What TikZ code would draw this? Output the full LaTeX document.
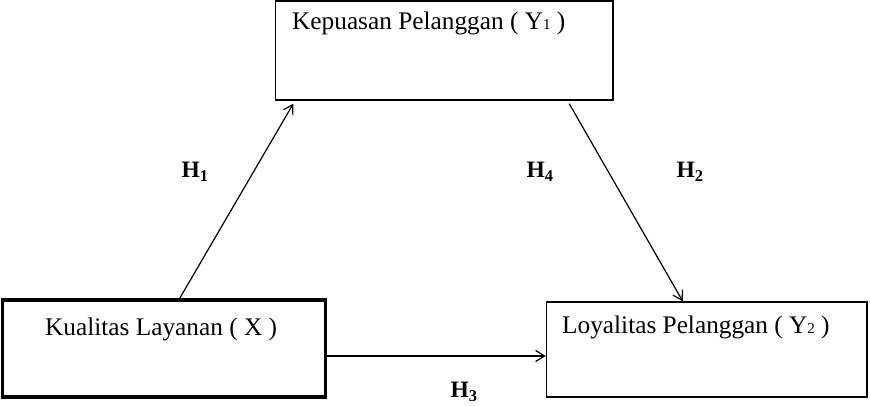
\documentclass[tikz,border=0pt]{standalone}
\usepackage{fontspec}
\setmainfont{Liberation Serif}
\usetikzlibrary{arrows.meta}
\begin{document}
\begin{tikzpicture}[x=1pt,y=-1pt,
  box/.style={draw,line width=1.5pt,minimum width=#1,inner sep=0pt},
  lbl/.style={anchor=base west,inner sep=0pt,font=\fontsize{25.3}{28}\selectfont},
  hyp/.style={inner sep=0pt,font=\fontsize{23.5}{26}\selectfont\bfseries},
  arr/.style={line width=1.2pt,-{Straight Barb[length=9pt,width=11pt,line width=1.2pt]}}]
\useasboundingbox (0,0) rectangle (870,406);
% boxes
\node[box=337.5pt,minimum height=99pt] (Y1) at (444.25,50.5) {};
\node[box=323pt,minimum height=97pt,line width=3.5pt] (X) at (163.75,348.5) {};
\node[box=320.5pt,minimum height=95pt] (Y2) at (706.75,349.5) {};
% texts
\node[lbl] (t1) at (292,30) {Kepuasan Pelanggan ( Y{\fontsize{15}{17}\selectfont 1} )};
\node[lbl] (t2) at (45,335) {Kualitas Layanan ( X )};
\node[lbl] (t3) at (562,333) {Loyalitas Pelanggan ( Y{\fontsize{15}{17}\selectfont 2} )};
% hypotheses
\node[hyp] (h1) at (195,172) {H\textsubscript{1}};
\node[hyp] (h4) at (540,172) {H\textsubscript{4}};
\node[hyp] (h2) at (690,172) {H\textsubscript{2}};
\node[hyp] (h3) at (464,392) {H\textsubscript{3}};
% connectors
\coordinate (h3s) at ([yshift=-7.5pt]X.east);
\draw[arr] ([xshift=16pt]X.north) -- ([xshift=-151pt,yshift=-3pt]Y1.south);
\draw[arr] ([xshift=125pt,yshift=-3pt]Y1.south) -- ([xshift=-24pt]Y2.north);
\draw[arr] (h3s) -- (Y2.west |- h3s);
\end{tikzpicture}
\end{document}
